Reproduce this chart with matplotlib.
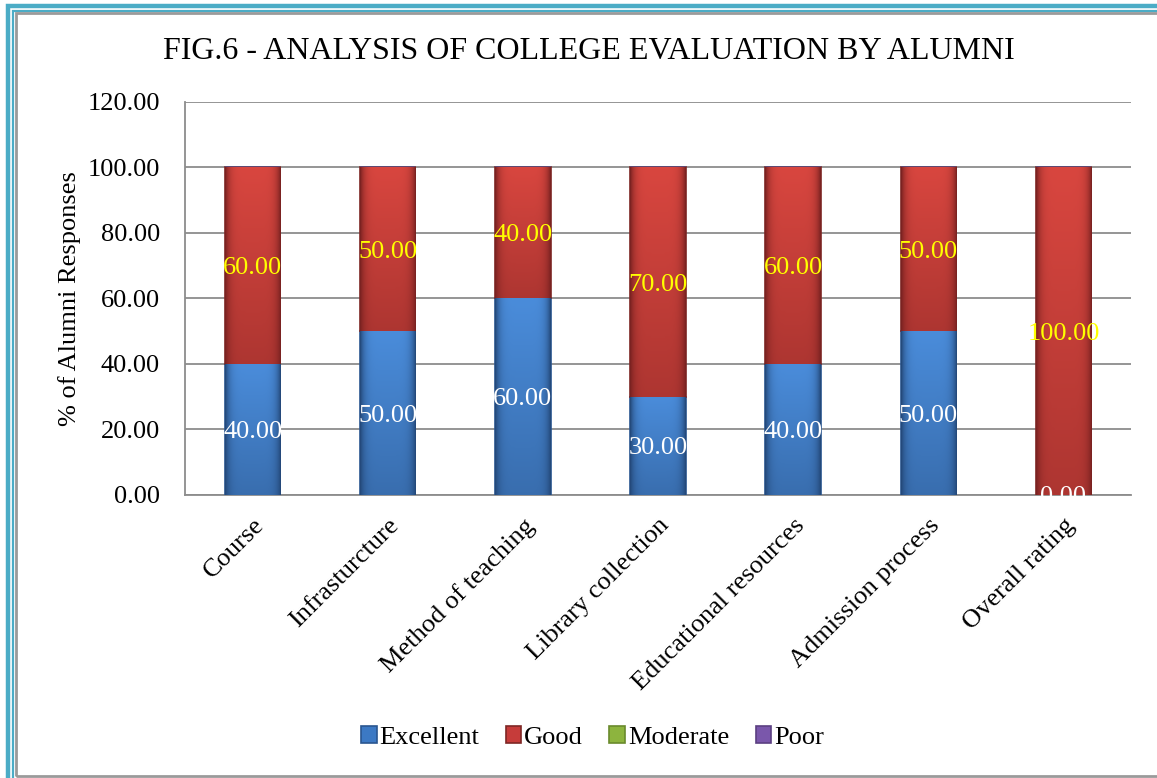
import matplotlib
matplotlib.use("Agg")
import matplotlib.pyplot as plt
from matplotlib.patches import Rectangle
from matplotlib.colors import LinearSegmentedColormap
import numpy as np

plt.rcParams['font.family'] = ['Liberation Serif', 'DejaVu Serif']

categories = ['Course', 'Infrasturcture', 'Method of teaching', 'Library collection',
              'Educational resources', 'Admission process', 'Overall rating']
excellent = [40, 50, 60, 30, 40, 50, 0]
good = [60, 50, 40, 70, 60, 50, 100]
moderate = [0, 0, 0, 0, 0, 0, 0]
poor = [0, 0, 0, 0, 0, 0, 0]

fig = plt.figure(figsize=(11.57, 7.78), dpi=100)
ax = fig.add_axes([0.1599, 0.3638, 0.8176, 0.5051])

x = np.arange(len(categories))
w = 0.41
b1 = ax.bar(x, excellent, w, color='#3C79C4', edgecolor='#2A5690', linewidth=1.2,
            label='Excellent', zorder=3)
b2 = ax.bar(x, good, w, bottom=excellent, color='#C63C3A', edgecolor='#7E2725',
            linewidth=1.2, label='Good', zorder=3)
bot = np.array(excellent) + np.array(good)
b3 = ax.bar(x, moderate, w, bottom=bot, color='#8DB43E', edgecolor='#6A8A2C',
            linewidth=1.2, label='Moderate', zorder=3)
b4 = ax.bar(x, poor, w, bottom=bot, color='#7A57AB', edgecolor='#5B3F82',
            linewidth=1.2, label='Poor', zorder=3)

# shaded fill, darker at the sides and the bottom
def shade(bars, c_dark, c_light):
    cm = LinearSegmentedColormap.from_list('s', [c_dark, c_light])
    xx = np.linspace(-1, 1, 60)
    yy = np.linspace(0, 1, 60)
    side = 1 - np.abs(xx) ** 6
    g = np.outer(0.55 + 0.45 * yy, side)
    for p in bars:
        if p.get_height() <= 0:
            continue
        im = ax.imshow(g, extent=[p.get_x(), p.get_x() + p.get_width(),
                                  p.get_y(), p.get_y() + p.get_height()],
                       origin='lower', cmap=cm, vmin=0, vmax=1, aspect='auto',
                       zorder=3.5, interpolation='bilinear')
        im.set_clip_path(p)

shade(b1, '#24497A', '#4A8CDA')
shade(b2, '#7A2221', '#D8463F')

# data labels in the middle of each segment
for i in range(len(categories)):
    ax.text(x[i], excellent[i] / 2, f'{excellent[i]:.2f}', ha='center', va='center_baseline',
            color='white', fontsize=19, zorder=5)
    ax.text(x[i], excellent[i] + good[i] / 2, f'{good[i]:.2f}', ha='center',
            va='center_baseline', color='#FFFF00', fontsize=19, zorder=5)

ax.set_xlim(-0.5, len(categories) - 0.5)
ax.set_ylim(0, 120)
ax.set_yticks(np.arange(0, 121, 20))
ax.set_yticklabels([f'{v:.2f}' for v in np.arange(0, 121, 20)], fontsize=19)
ax.set_xticks(x)
ax.set_xticklabels(categories, rotation=45, ha='right', rotation_mode='anchor', fontsize=19)
ax.tick_params(axis='y', length=0, pad=18)
ax.tick_params(axis='x', length=0, pad=14)
ax.grid(True, axis='y', color='#8C8C8C', linewidth=1.3, zorder=0)

for s in ['top', 'right']:
    ax.spines[s].set_visible(False)
for s in ['left', 'bottom']:
    ax.spines[s].set_color('#8C8C8C')
    ax.spines[s].set_linewidth(1.3)

ax.set_ylabel('% of Alumni Responses', fontsize=19, labelpad=5)
fig.text(0.509, 0.934, 'FIG.6 - ANALYSIS OF COLLEGE EVALUATION BY ALUMNI',
         ha='center', va='center', fontsize=23)

fig.legend(handles=[b1, b2, b3, b4], loc='center', bbox_to_anchor=(0.512, 0.052),
           ncol=4, frameon=False, fontsize=19, handlelength=0.6, handleheight=0.6,
           handletextpad=0.1, columnspacing=1.0)

# page borders
W, H = 1157, 778
def frame(x0, y0, x1, y1, color, lw):
    fig.patches.append(Rectangle((x0 / W, 1 - y1 / H), (x1 - x0) / W, (y1 - y0) / H,
                                 transform=fig.transFigure, fill=False,
                                 edgecolor=color, linewidth=lw))
frame(7.5, 6.5, 1170, 790, '#4BACC6', 3.2)
frame(12.5, 10.5, 1170, 790, '#4BACC6', 1.6)
frame(16, 12.5, 1165, 776, '#9A9A9A', 2.0)

fig.savefig('out.png', dpi=100)
